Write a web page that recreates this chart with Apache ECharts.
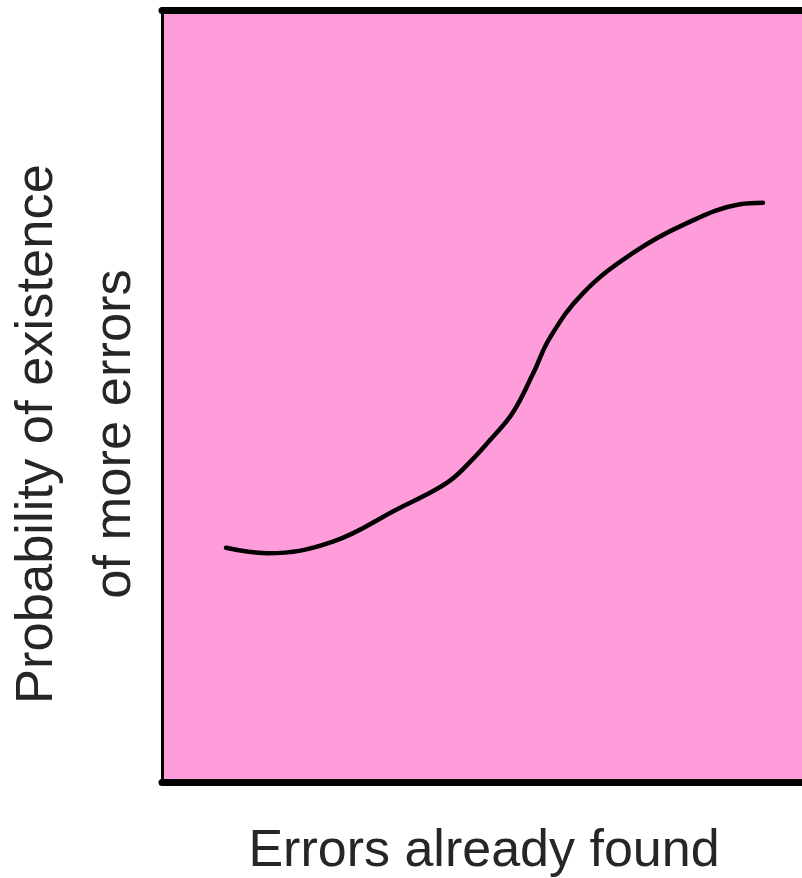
<!DOCTYPE html>
<html>
<head>
<meta charset="utf-8">
<script src="https://cdn.jsdelivr.net/npm/echarts@6/dist/echarts.min.js"></script>
<style>html,body{margin:0;padding:0;background:#fff}#c{width:802px;height:878px}</style>
</head>
<body>
<div id="c"></div>
<script>
// Data (x: errors already found, y: probability), arbitrary 0-100 units
const errorsFound = [10.0, 16.4, 26.7, 37.2, 41.1, 45.0, 48.1, 51.3, 54.8, 58.0, 60.6, 65.8, 73.6, 81.6, 90.3, 93.9];
const probability = [30.4, 29.7, 31.2, 35.6, 37.2, 39.1, 41.5, 44.4, 47.9, 53.0, 57.6, 63.4, 68.6, 72.3, 74.9, 75.1];
const xLabel = 'Errors already found';
const yLabel = 'Probability of existence\nof more errors';

const seriesData = errorsFound.map((x, i) => [x, probability[i]]);
const chart = echarts.init(document.getElementById('c'), null, {renderer: 'canvas'});
const font = '"Liberation Sans", Arial, sans-serif';
chart.setOption({
  animation: false,
  grid: {left: 162, right: 0, top: 10.5, bottom: 95.5, show: true, backgroundColor: '#ff9ddb', borderWidth: 0},
  xAxis: [{
    type: 'value', min: 0, max: 100, position: 'bottom',
    axisLine: {show: true, lineStyle: {color: '#000', width: 7}},
    axisTick: {show: false}, axisLabel: {show: false}, splitLine: {show: false}
  }, {
    type: 'value', min: 0, max: 100, position: 'top',
    axisLine: {show: true, lineStyle: {color: '#000', width: 7}},
    axisTick: {show: false}, axisLabel: {show: false}, splitLine: {show: false}
  }],
  yAxis: {
    type: 'value', min: 0, max: 100,
    axisLine: {show: true, lineStyle: {color: '#000', width: 3}},
    axisTick: {show: false}, axisLabel: {show: false}, splitLine: {show: false}
  },
  graphic: [{
    type: 'text', x: 484, y: 852,
    style: {text: xLabel, font: '52px ' + font, fill: '#262626', align: 'center', verticalAlign: 'middle'}
  }, {
    type: 'text', x: 77, y: 434, rotation: Math.PI / 2,
    style: {text: yLabel, font: '52.5px ' + font, fill: '#262626', align: 'center', verticalAlign: 'middle', lineHeight: 78}
  }],
  series: [{
    type: 'line', xAxisIndex: 0, data: seriesData, smooth: 0.4, symbol: 'none',
    lineStyle: {color: '#000', width: 4.5, cap: 'round', join: 'round'}
  }]
});
</script>
</body>
</html>
